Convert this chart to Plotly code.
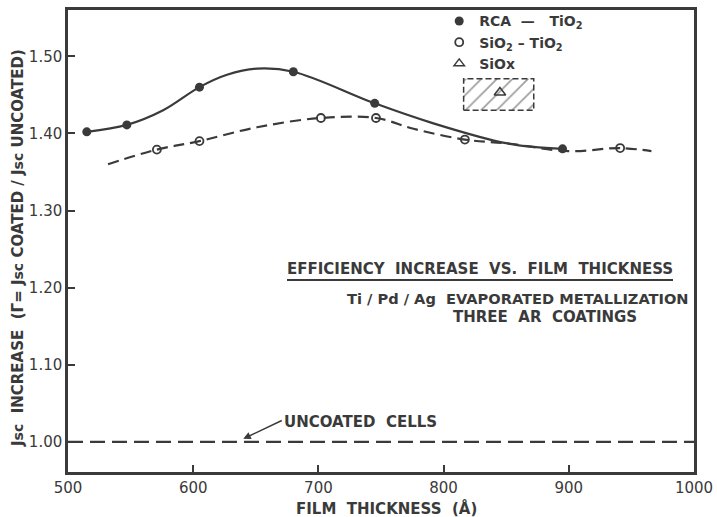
import plotly.graph_objects as go

# ---- data ----
rca_x = [515, 547, 605, 680, 745, 895]
rca_y = [1.402, 1.411, 1.460, 1.480, 1.439, 1.380]

sio2_x = [571, 605, 702, 746, 817, 941]
sio2_y = [1.379, 1.390, 1.420, 1.420, 1.392, 1.381]

# hand-drawn fitted curves (knots)
rca_curve_x = [515, 547, 576, 605, 627, 651, 680, 745, 790, 851, 895]
rca_curve_y = [1.402, 1.411, 1.430, 1.460, 1.476, 1.484, 1.480, 1.439, 1.414, 1.387, 1.380]

sio2_curve_x = [532, 571, 605, 651, 702, 746, 776, 817, 851, 900, 941, 966]
sio2_curve_y = [1.360, 1.379, 1.390, 1.408, 1.420, 1.420, 1.406, 1.392, 1.387, 1.377, 1.381, 1.377]

uncoated_x = [500, 1000]
uncoated_y = [1.00, 1.00]

siox_box_x = [816, 872, 872, 816, 816]
siox_box_y = [1.430, 1.430, 1.471, 1.471, 1.430]
siox_x = [845]
siox_y = [1.453]

x_ticks = [500, 600, 700, 800, 900, 1000]
y_ticks = [1.00, 1.10, 1.20, 1.30, 1.40, 1.50]

INK = "#3a3a3a"
FONT = "DejaVu Sans"
BOLD = dict(family=FONT, size=15, color=INK, weight="bold")
BOLD_S = dict(family=FONT, size=14.6, color=INK, weight="bold")

fig = go.Figure()

fig.add_trace(go.Scatter(x=rca_curve_x, y=rca_curve_y, mode="lines",
                         line=dict(color=INK, width=2.2, shape="spline", smoothing=1.0),
                         showlegend=False, hoverinfo="skip"))
fig.add_trace(go.Scatter(x=sio2_curve_x, y=sio2_curve_y, mode="lines",
                         line=dict(color=INK, width=2.2, shape="spline", smoothing=1.0, dash="11px,6px"),
                         showlegend=False, hoverinfo="skip"))
fig.add_trace(go.Scatter(x=uncoated_x, y=uncoated_y, mode="lines",
                         line=dict(color=INK, width=2.2, dash="15px,7px"),
                         showlegend=False, hoverinfo="skip"))
fig.add_trace(go.Scatter(x=siox_box_x, y=siox_box_y, mode="lines", fill="toself",
                         fillcolor="rgba(0,0,0,0)",
                         fillpattern=dict(shape="/", size=11, solidity=0.15, fgcolor=INK, bgcolor="white"),
                         line=dict(color=INK, width=1.5, dash="6px,3px"),
                         showlegend=False, hoverinfo="skip"))
fig.add_trace(go.Scatter(x=siox_x, y=siox_y, mode="markers",
                         marker=dict(symbol="triangle-up-open", size=10, color=INK, line=dict(width=1.5, color=INK)),
                         showlegend=False))
fig.add_trace(go.Scatter(x=rca_x, y=rca_y, mode="markers",
                         marker=dict(symbol="circle", size=9, color=INK),
                         showlegend=False))
fig.add_trace(go.Scatter(x=sio2_x, y=sio2_y, mode="markers",
                         marker=dict(symbol="circle-open", size=8, color=INK, line=dict(width=1.8, color=INK)),
                         showlegend=False))

# legend-only entries
fig.add_trace(go.Scatter(x=[None], y=[None], mode="markers", name="RCA  —   TiO<sub>2</sub>",
                         marker=dict(symbol="circle", size=9, color=INK)))
fig.add_trace(go.Scatter(x=[None], y=[None], mode="markers", name="SiO<sub>2</sub> – TiO<sub>2</sub>",
                         marker=dict(symbol="circle-open", size=8, color=INK, line=dict(width=1.8, color=INK))))
fig.add_trace(go.Scatter(x=[None], y=[None], mode="markers", name="SiOx",
                         marker=dict(symbol="triangle-up-open", size=9, color=INK, line=dict(width=1.5, color=INK))))

axis_common = dict(showline=True, linewidth=2.5, linecolor=INK, mirror=True,
                   showgrid=False, zeroline=False, ticks="inside", ticklen=7,
                   tickwidth=2, tickcolor=INK,
                   tickfont=dict(family=FONT, size=15, color=INK))

fig.update_layout(
    width=717, height=517,
    margin=dict(l=68, r=23, t=10, b=45, autoexpand=False),
    paper_bgcolor="white", plot_bgcolor="white",
    font=dict(family=FONT, color=INK, size=14),
    xaxis=dict(range=[500, 1000], tickvals=x_ticks, ticktext=[str(v) for v in x_ticks], **axis_common),
    yaxis=dict(range=[0.961, 1.56], tickvals=y_ticks, tickformat=".2f", **axis_common),
    legend=dict(x=0.593, y=1.01, xanchor="left", yanchor="top", bgcolor="rgba(0,0,0,0)",
                font=dict(family=FONT, size=14, color=INK, weight="bold"), tracegroupgap=0, itemwidth=30),
    annotations=[
        dict(text="EFFICIENCY  INCREASE  VS.  FILM  THICKNESS", xref="paper", yref="paper",
             x=0.658, y=0.4394, showarrow=False, xanchor="center", yanchor="middle", font=BOLD),
        dict(text="Ti / Pd / Ag  EVAPORATED METALLIZATION", xref="paper", yref="paper",
             x=0.7190, y=0.3745, showarrow=False, xanchor="center", yanchor="middle", font=BOLD_S),
        dict(text="THREE  AR  COATINGS", xref="paper", yref="paper",
             x=0.762, y=0.3355, showarrow=False, xanchor="center", yanchor="middle", font=BOLD),
        dict(text="UNCOATED  CELLS", xref="paper", yref="paper",
             x=0.3419, y=0.1082, showarrow=False, xanchor="left", yanchor="middle", font=BOLD),
        dict(text="", x=640, y=1.004, xref="x", yref="y", showarrow=True,
             ax=40, ay=-19, arrowhead=2, arrowsize=1, arrowwidth=1.5, arrowcolor=INK),
        dict(text="J<span style='font-size:14px'>sc</span>  INCREASE  (Γ= J<span style='font-size:14px'>sc</span> COATED / J<span style='font-size:14px'>sc</span> UNCOATED)",
             xref="paper", yref="paper", x=(18 - 68) / 626, y=1 - (248 - 10) / 462,
             textangle=-90, showarrow=False, xanchor="center", yanchor="middle", font=BOLD),
        dict(text="FILM  THICKNESS  (Å)", xref="paper", yref="paper",
             x=(386 - 68) / 626, y=-(508 - 472) / 462, showarrow=False,
             xanchor="center", yanchor="middle", font=BOLD),
    ],
    shapes=[
        dict(type="line", xref="paper", yref="paper", x0=(287 - 68) / 626, x1=(673 - 68) / 626,
             y0=1 - 270 / 462, y1=1 - 270 / 462, line=dict(color=INK, width=2)),
    ],
)

fig.write_html("out.html")
